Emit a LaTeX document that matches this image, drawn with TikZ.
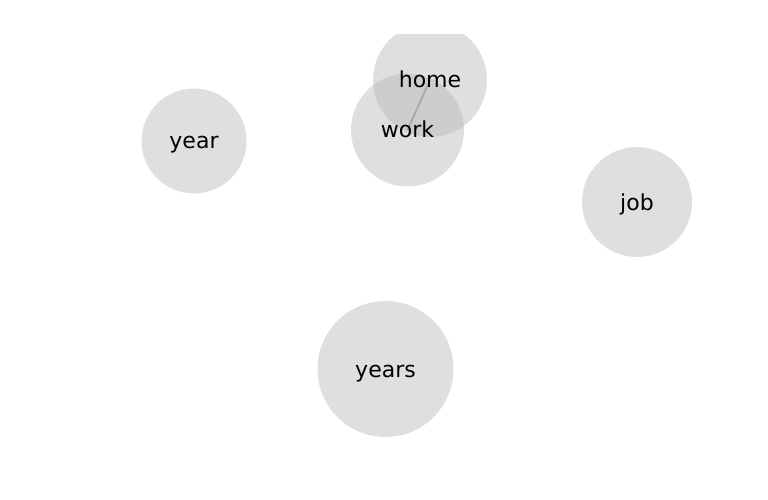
\documentclass[tikz,border=0pt]{standalone}
\usepackage{fontspec}
\setmainfont{DejaVu Sans}
\tikzset{
  bubble/.style={circle, fill=black!28, fill opacity=0.45, draw=none, inner sep=0pt, minimum size=#1},
  lbl/.style={font=\fontsize{22}{26}\selectfont, text=black, inner sep=0pt, text height=21pt, text depth=5pt},
  link/.style={draw=black!45, line width=2pt}
}
\begin{document}
\begin{tikzpicture}[x=1pt,y=-1pt]
\useasboundingbox (0,0) rectangle (768,500);
\begin{scope}
\clip (0,35) rectangle (768,436);
\coordinate (homec) at (430,80);
\coordinate (workc) at (407.5,130);
\draw[link] (homec) -- (workc);
\node[bubble=105pt] (year) at (194,141) {};
\node[bubble=114pt] (home) at (430,80) {};
\node[bubble=113pt] (work) at (407.5,130) {};
\node[bubble=110pt] (job) at (637,202) {};
\node[bubble=136pt] (years) at (385.5,369) {};
\end{scope}
\node[lbl] (tyear) at (year) {year};
\node[lbl] (thome) at (home) {home};
\node[lbl] (twork) at (work) {work};
\node[lbl] (tjob) at (job) {job};
\node[lbl] (tyears) at (years) {years};
\end{tikzpicture}
\end{document}
